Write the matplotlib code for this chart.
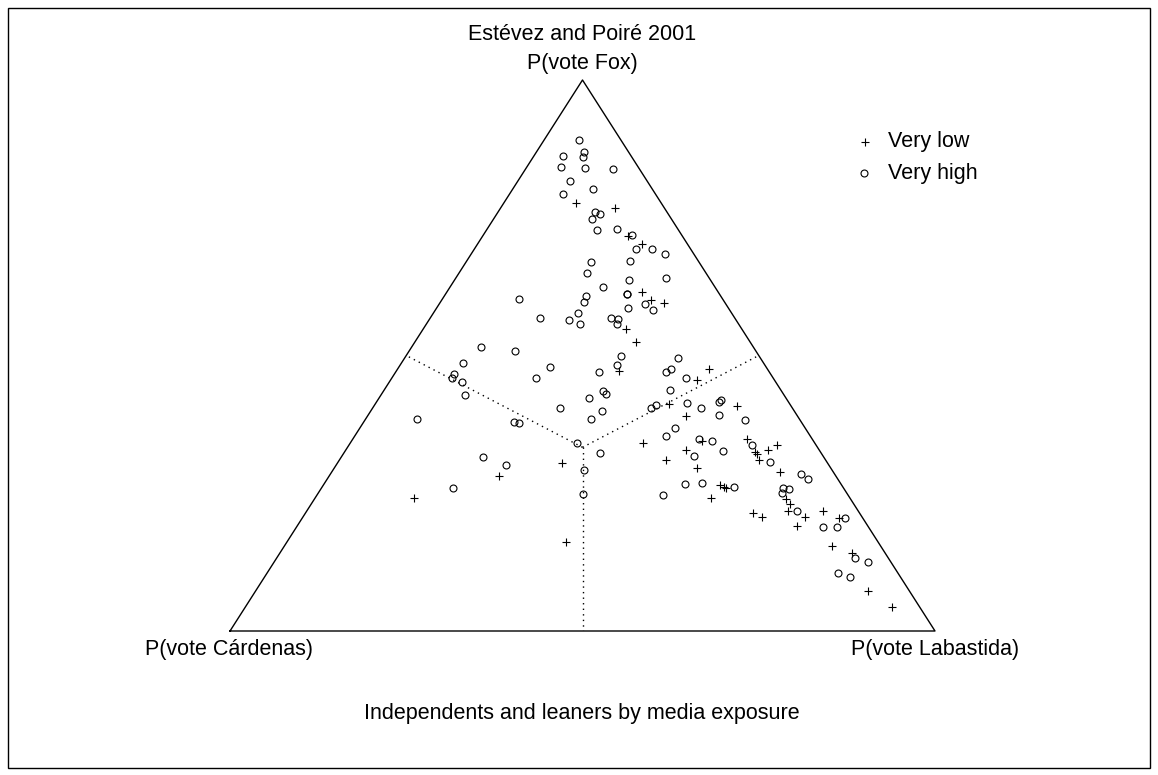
import numpy as np
import matplotlib
matplotlib.use("Agg")
import matplotlib.pyplot as plt
from matplotlib.patches import Rectangle

plt.rcParams['font.family'] = ['Liberation Sans', 'DejaVu Sans']

title = "Estévez and Poiré 2001"
subtitle = "Independents and leaners by media exposure"
vertex_labels = ["P(vote Fox)", "P(vote Cárdenas)", "P(vote Labastida)"]
series_names = ["Very low", "Very high"]

# Very low media exposure: P(Fox), P(Labastida)   (P(Cárdenas) = 1 - both)
pfox_low = [0.777, 0.768, 0.716, 0.702, 0.615, 0.600, 0.596, 0.548, 0.525, 0.305,
            0.281, 0.241, 0.472, 0.476, 0.456, 0.412, 0.409, 0.390, 0.341, 0.344,
            0.329, 0.311, 0.295, 0.265, 0.262, 0.260, 0.241, 0.349, 0.324, 0.322,
            0.310, 0.329, 0.338, 0.289, 0.239, 0.230, 0.218, 0.206, 0.191, 0.215,
            0.206, 0.217, 0.205, 0.155, 0.142, 0.073, 0.044, 0.161]
plab_low = [0.102, 0.162, 0.207, 0.233, 0.277, 0.297, 0.318, 0.287, 0.313, 0.318,
            0.241, 0.141, 0.316, 0.442, 0.434, 0.416, 0.514, 0.452, 0.415, 0.497,
            0.483, 0.463, 0.515, 0.563, 0.569, 0.574, 0.562, 0.559, 0.583, 0.587,
            0.596, 0.599, 0.607, 0.635, 0.669, 0.679, 0.683, 0.712, 0.709, 0.635,
            0.652, 0.733, 0.761, 0.776, 0.811, 0.869, 0.917, 0.396]

# Very high media exposure
pfox_high = [0.891, 0.869, 0.861, 0.862, 0.843, 0.840, 0.839, 0.817, 0.803, 0.793,
             0.760, 0.757, 0.747, 0.728, 0.729, 0.719, 0.693, 0.694, 0.684, 0.672,
             0.669, 0.650, 0.640, 0.637, 0.625, 0.611, 0.612, 0.608, 0.597, 0.593,
             0.582, 0.586, 0.578, 0.568, 0.564, 0.558, 0.568, 0.566, 0.558, 0.500,
             0.495, 0.479, 0.483, 0.603, 0.516, 0.509, 0.486, 0.466, 0.460, 0.451,
             0.428, 0.459, 0.470, 0.422, 0.405, 0.385, 0.385, 0.379, 0.377, 0.341,
             0.315, 0.301, 0.293, 0.259, 0.248, 0.436, 0.430, 0.400, 0.323, 0.476,
             0.470, 0.460, 0.437, 0.410, 0.405, 0.413, 0.404, 0.420, 0.415, 0.392,
             0.383, 0.369, 0.353, 0.349, 0.344, 0.318, 0.327, 0.266, 0.268, 0.262,
             0.247, 0.338, 0.307, 0.285, 0.275, 0.260, 0.257, 0.251, 0.218, 0.188,
             0.189, 0.205, 0.133, 0.125, 0.106, 0.098]
plab_high = [0.049, 0.068, 0.070, 0.041, 0.048, 0.084, 0.124, 0.074, 0.114, 0.076,
             0.138, 0.147, 0.140, 0.156, 0.185, 0.211, 0.230, 0.251, 0.275, 0.231,
             0.178, 0.181, 0.299, 0.247, 0.216, 0.257, 0.257, 0.201, 0.203, 0.292,
             0.309, 0.271, 0.204, 0.156, 0.199, 0.217, 0.257, 0.268, 0.270, 0.304,
             0.388, 0.215, 0.308, 0.108, 0.098, 0.150, 0.087, 0.085, 0.085, 0.103,
             0.120, 0.205, 0.288, 0.298, 0.265, 0.320, 0.073, 0.213, 0.222, 0.322,
             0.202, 0.241, 0.355, 0.187, 0.376, 0.311, 0.318, 0.327, 0.364, 0.387,
             0.384, 0.417, 0.406, 0.399, 0.394, 0.442, 0.466, 0.487, 0.486, 0.498,
             0.539, 0.446, 0.442, 0.491, 0.511, 0.499, 0.536, 0.512, 0.536, 0.584,
             0.491, 0.571, 0.613, 0.667, 0.683, 0.654, 0.664, 0.657, 0.695, 0.747,
             0.766, 0.770, 0.820, 0.842, 0.810, 0.831]


def to_xy(pfox, plab):
    pfox = np.asarray(pfox)
    plab = np.asarray(plab)
    return plab + 0.5 * pfox, pfox


W, H = 1158, 775
fig = plt.figure(figsize=(W / 100, H / 100), dpi=100)
fig.patch.set_facecolor("white")

# outer frame
fig.add_artist(Rectangle((8 / W, 7 / H), 1142 / W, 760 / H, transform=fig.transFigure,
                         fill=False, edgecolor="black", linewidth=1.0))

ax = fig.add_axes([230 / W, (H - 631) / H, 705 / W, 551 / H])
ax.set_xlim(0, 1)
ax.set_ylim(0, 1)
ax.axis("off")

# triangle
ax.plot([0, 1, 0.5, 0], [0, 0, 1, 0], color="black", lw=1.0, clip_on=False)

# dotted lines from the centre to the side midpoints
cx, cy = to_xy(1 / 3, 1 / 3)
for pf, pl in [(0.5, 0.0), (0.5, 0.5), (0.0, 0.5)]:
    mx, my = to_xy(pf, pl)
    ax.plot([cx, mx], [cy, my], color="black", lw=1.0, linestyle=(0, (1, 3)))

xl, yl = to_xy(pfox_low, plab_low)
xh, yh = to_xy(pfox_high, plab_high)
ax.plot(xl, yl, linestyle="none", marker="+", markersize=6, mew=0.8, color="black",
        clip_on=False)
ax.plot(xh, yh, linestyle="none", marker="o", markersize=5, mew=0.8, mfc="none",
        mec="black", clip_on=False)

fs = 15.5
fig.text(582 / W, 1 - 34 / H, title, ha="center", va="center", fontsize=fs)
fig.text(582 / W, 1 - 63 / H, vertex_labels[0], ha="center", va="center", fontsize=fs)
fig.text(229 / W, 1 - 650 / H, vertex_labels[1], ha="center", va="center", fontsize=fs)
fig.text(935 / W, 1 - 650 / H, vertex_labels[2], ha="center", va="center", fontsize=fs)
fig.text(582 / W, 1 - 714 / H, subtitle, ha="center", va="center", fontsize=fs)

# legend
fig.lines.append(plt.Line2D([865 / W], [1 - 142 / H], transform=fig.transFigure,
                            marker="+", markersize=6, mew=0.8, color="black", linestyle="none"))
fig.lines.append(plt.Line2D([864 / W], [1 - 173 / H], transform=fig.transFigure,
                            marker="o", markersize=5, mew=0.8, mfc="none", mec="black",
                            linestyle="none"))
fig.text(888 / W, 1 - 142 / H, series_names[0], ha="left", va="center", fontsize=fs)
fig.text(888 / W, 1 - 173 / H, series_names[1], ha="left", va="center", fontsize=fs)

fig.savefig("out.png", dpi=100)
